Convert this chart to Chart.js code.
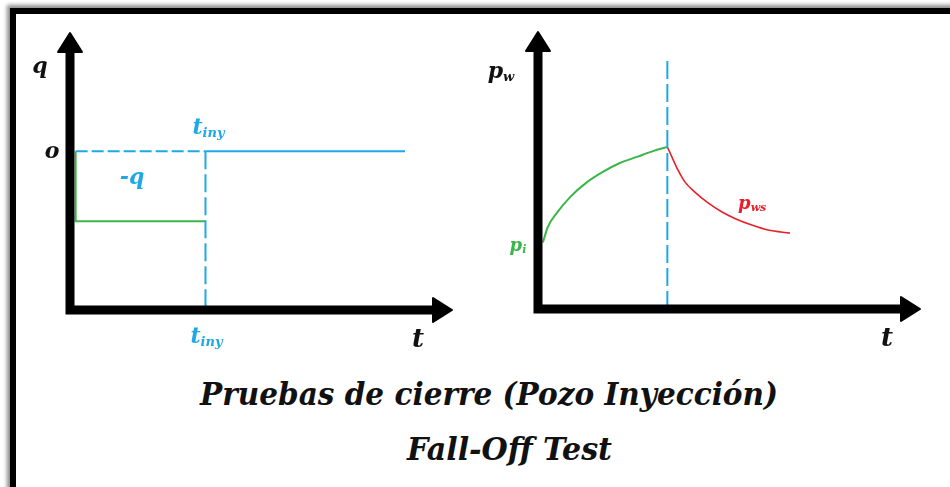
<!DOCTYPE html>
<html>
<head>
<meta charset="utf-8">
<script src="https://cdn.jsdelivr.net/npm/chart.js@4.4.1/dist/chart.umd.min.js"></script>
<style>
    html, body { overflow: hidden; }
    body { margin: 0; background: #fff; width: 950px; height: 487px; position: relative; }
    #frame {
        position: absolute; left: 10px; top: 8px; width: 950px; height: 500px;
        border-left: 6px solid #000; border-top: 6px solid #000;
        box-shadow: -3px -3px 4px rgba(0, 0, 0, 0.45);
    }
    canvas { position: absolute; top: 0; }
    #left { left: 0; }
    #right { left: 475px; }
    .title {
        position: absolute; white-space: nowrap; transform-origin: 0 0;
        font: italic bold 31px "DejaVu Serif", serif; line-height: 31px; color: #111;
    }
</style>
</head>
<body>
<div id="frame"></div>
<canvas id="left" width="475" height="360"></canvas>
<canvas id="right" width="475" height="360"></canvas>
<div class="title" id="title1" style="left:200px; top:379px" data-w="578">Pruebas de cierre (Pozo Inyección)</div>
<div class="title" id="title2" style="left:407px; top:434px" data-w="205">Fall-Off Test</div>
<script>
    // left panel: injection rate q vs time
    const tLeftRange = [-0.15, 10]
    const qRange = [-2.27, 1.69]
    const tIny = 3.45
    const tZeroEnd = 8.75
    const rateT = [0, 0, tIny]
    const rateQ = [0, -1, -1]
    const zeroDashT = [0, tIny]
    const zeroDashQ = [0, 0]
    const zeroSolidT = [tIny, tZeroEnd]
    const zeroSolidQ = [0, 0]
    const shutInT = [tIny, tIny]
    const shutInQ = [0, qRange[0]]

    // right panel: bottomhole pressure vs time
    const tRightRange = [-0.13, 10]
    const pRange = [0, 10]
    const tShut = 3.3
    const injT = [0, 0.13, 0.37, 0.72, 1.17, 1.59, 2.04, 2.49, 2.92, 3.3]
    const injP = [2.4, 2.96, 3.47, 4.04, 4.58, 4.95, 5.27, 5.49, 5.7, 5.85]
    const fallT = [3.3, 3.42, 3.58, 3.77, 4.03, 4.38, 4.75, 5.09, 5.54, 5.97, 6.55]
    const fallP = [5.85, 5.49, 5.02, 4.58, 4.22, 3.83, 3.5, 3.27, 3.03, 2.85, 2.74]
    const shutLineT = [tShut, tShut]
    const shutLineP = [0, 9.0]

    const BLUE = '#1fa8e6'
    const GREEN = '#3cb54a'
    const RED = '#e8202a'
    const FONT = '"DejaVu Serif", serif'

    const zip = (xs, ys) => xs.map((x, i) => ({x: x, y: ys[i]}))

    const line = (xs, ys, color, width, dash, smooth) => ({
        data: zip(xs, ys),
        borderColor: color,
        borderWidth: width,
        borderDash: dash || [],
        pointRadius: 0,
        fill: false,
        clip: false,
        showLine: true,
        cubicInterpolationMode: smooth ? 'monotone' : 'default',
        tension: 0,
    })

    // text with a subscript, centred on x
    const subText = (ctx, base, sub, x, y, size, color) => {
        ctx.save()
        ctx.fillStyle = color
        ctx.textBaseline = 'alphabetic'
        ctx.font = `italic bold ${size}px ${FONT}`
        const wb = ctx.measureText(base).width
        const subSize = Math.round(size * 0.6)
        ctx.font = `italic bold ${subSize}px ${FONT}`
        const ws = sub ? ctx.measureText(sub).width : 0
        const x0 = x - (wb + ws) / 2
        ctx.font = `italic bold ${size}px ${FONT}`
        ctx.fillText(base, x0, y)
        if (sub) {
            ctx.font = `italic bold ${subSize}px ${FONT}`
            ctx.fillText(sub, x0 + wb, y + size * 0.12)
        }
        ctx.restore()
    }

    const axesPlugin = (labels) => ({
        id: 'arrowAxes',
        afterDatasetsDraw(chart) {
            const ctx = chart.ctx
            const xs = chart.scales.x
            const ys = chart.scales.y
            const ox = xs.left, oy = ys.bottom
            const top = ys.top, right = xs.right
            ctx.save()
            ctx.strokeStyle = '#000'
            ctx.fillStyle = '#000'
            ctx.lineWidth = 9
            ctx.lineJoin = 'miter'
            ctx.beginPath()
            ctx.moveTo(ox, top + 18)
            ctx.lineTo(ox, oy)
            ctx.lineTo(right - 18, oy)
            ctx.stroke()
            ctx.lineJoin = 'round'
            ctx.lineWidth = 2
            ctx.beginPath()
            ctx.moveTo(ox, top)
            ctx.lineTo(ox + 12, top + 19)
            ctx.lineTo(ox - 12, top + 19)
            ctx.closePath()
            ctx.fill()
            ctx.stroke()
            ctx.beginPath()
            ctx.moveTo(right, oy)
            ctx.lineTo(right - 19, oy - 12)
            ctx.lineTo(right - 19, oy + 12)
            ctx.closePath()
            ctx.fill()
            ctx.stroke()
            ctx.restore()
            labels(chart.ctx, xs, ys)
        }
    })

    const makeChart = (id, datasets, xr, yr, padding, labels) => new Chart(document.getElementById(id), {
        type: 'scatter',
        data: {datasets: datasets},
        options: {
            responsive: false,
            animation: false,
            layout: {padding: padding},
            plugins: {legend: {display: false}, tooltip: {enabled: false}},
            scales: {
                x: {type: 'linear', min: xr[0], max: xr[1], display: false},
                y: {type: 'linear', min: yr[0], max: yr[1], display: false},
            },
        },
        plugins: [axesPlugin(labels)],
    })

    makeChart('left', [
        line(zeroDashT, zeroDashQ, BLUE, 2, [12, 4]),
        line(zeroSolidT, zeroSolidQ, BLUE, 2),
        line(shutInT, shutInQ, BLUE, 2, [18, 5]),
        line(rateT, rateQ, GREEN, 2),
    ], tLeftRange, qRange, {left: 70, right: 23, top: 33, bottom: 50}, (ctx, xs, ys) => {
        const ox = xs.left, oy = ys.bottom
        const y0 = ys.getPixelForValue(0)
        const xi = xs.getPixelForValue(tIny)
        subText(ctx, 'q', '', ox - 30, ys.top + 40, 22, '#111')
        subText(ctx, 'o', '', ox - 18, y0 + 7, 22, '#111')
        subText(ctx, 't', 'iny', xi + 3, y0 - 17, 22, BLUE)
        subText(ctx, '-q', '', xs.getPixelForValue(1.5), ys.getPixelForValue(-0.37) + 7, 22, BLUE)
        subText(ctx, 't', 'iny', xi + 1, oy + 33, 22, BLUE)
        subText(ctx, 't', '', xs.right - 34, oy + 37, 26, '#111')
    })

    makeChart('right', [
        line(shutLineT, shutLineP, BLUE, 2, [18, 5]),
        line(injT, injP, GREEN, 2, null, true),
        line(fallT, fallP, RED, 1.6, null, true),
    ], tRightRange, pRange, {left: 63, right: 30, top: 32, bottom: 51}, (ctx, xs, ys) => {
        const ox = xs.left, oy = ys.bottom
        subText(ctx, 'p', 'w', ox - 37, ys.top + 46, 22, '#111')
        subText(ctx, 'p', 'i', ox - 20, ys.getPixelForValue(injP[0]) + 8, 18, GREEN)
        subText(ctx, 'p', 'ws', xs.getPixelForValue(5.55), ys.getPixelForValue(3.83) + 6, 18, RED)
        subText(ctx, 't', '', xs.right - 33, oy + 37, 26, '#111')
    })

    // squeeze the titles to the width they take in the figure
    document.querySelectorAll('.title').forEach(el => {
        const w = el.getBoundingClientRect().width
        el.style.transform = `scaleX(${el.dataset.w / w})`
    })
</script>
</body>
</html>
